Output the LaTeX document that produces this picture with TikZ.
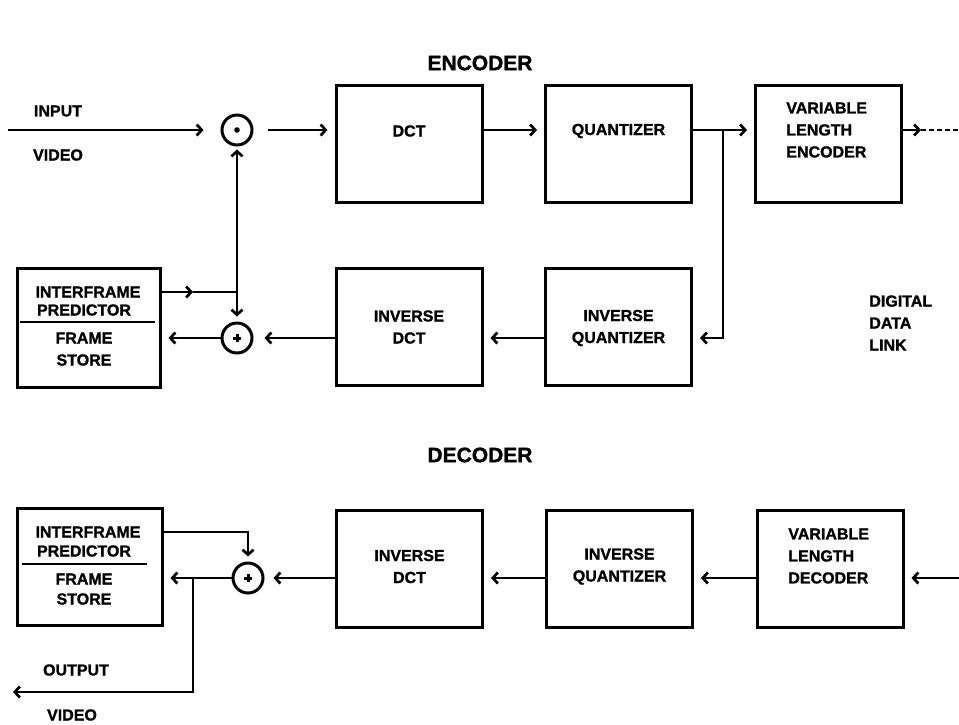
\documentclass[tikz,border=0pt]{standalone}
\usepackage{fontspec}
\setmainfont{Liberation Sans}[BoldFeatures={FakeBold=1.2}]
\usetikzlibrary{arrows.meta,calc}
\begin{document}
\begin{tikzpicture}[x=1pt,y=-1pt,
  line width=2.7pt,
  blk/.style={draw, line width=3pt, minimum width=146pt, minimum height=117pt, inner sep=0pt},
  lbl/.style={font=\fontsize{16}{22}\selectfont\bfseries, inner sep=0pt, align=center},
  ttl/.style={font=\fontsize{21}{24}\selectfont\bfseries, inner sep=0pt},
  sumc/.style={draw, circle, line width=3pt, minimum size=30pt, inner sep=0pt},
  arr/.style={-{Straight Barb[length=5pt,width=11pt]}, shorten >=7pt},
  plain/.style={shorten >=0pt},
]
\useasboundingbox (0,0) rectangle (959,724);

% titles
\node[ttl] (tenc) at (480,63) {ENCODER};
\node[ttl] (tdec) at (480,455) {DECODER};

% ---------------- encoder forward row
\node[blk] (dct)   at (409,144) {};
\node[blk] (quant) at (618.5,144) {};
\node[blk] (vle)   at (828.5,144) {};
\node[lbl] (tdct)   at (409,131) {DCT};
\node[lbl] (tquant) at (618.5,131) {QUANTIZER};
\node[lbl, align=left, anchor=west] (tvle) at (785,130) {VARIABLE\\LENGTH\\ENCODER};

\node[sumc] (sub) at (237,130) {};
\fill (sub.center) circle (2.8pt);

\node[lbl] (tin)  at (58,111) {INPUT};
\node[lbl] (tvid) at (58,155) {VIDEO};
\coordinate (inL) at (8,130);
\draw[arr, shorten >=17pt] (inL) -- (sub.west);
\draw[arr, shorten <=14pt] (sub.east) -- (dct.west |- sub.east);
\draw[arr] (dct.east |- sub.east) -- (quant.west |- sub.east);
\coordinate (br) at (723,130);
\draw[arr] (quant.east |- br) -- (vle.west |- br);
\coordinate (vout) at (921,130);
\coordinate (vend) at (959,130);
\draw[arr, plain] (vle.east |- br) -- (vout);
\draw[dash pattern=on 5pt off 3pt] (vout) -- (vend);

% ---------------- encoder feedback row
\node[blk] (pe)    at (88.5,327.5) [minimum width=143pt, minimum height=119pt] {};
\node[blk] (idct)  at (409,327) {};
\node[blk] (iquant) at (618.5,327) {};
\node[lbl] (tidct)  at (409,327) {INVERSE\\DCT};
\node[lbl] (tiquant) at (618.5,328) {INVERSE\\QUANTIZER};

\node[lbl] (pe1) at (88,292) {INTERFRAME};
\node[lbl] (pe2) at (84,310) {PREDICTOR};
\node[lbl] (pe3) at (84,338) {FRAME};
\node[lbl] (pe4) at (84,360) {STORE};
\draw (20,322) -- (155,322);

\node[sumc] (adde) at (237,338) {};
\draw[line width=3pt] ($(adde.center)+(-4,0)$) -- ($(adde.center)+(4,0)$)
  ($(adde.center)+(0,-4)$) -- ($(adde.center)+(0,4)$);

\node[lbl, align=left, anchor=west] (tlink) at (868,323) {DIGITAL\\DATA\\LINK};

\draw[arr] (br) |- (iquant.east |- adde.center);
\draw[arr] (iquant.west |- adde.center) -- (idct.east |- adde.center);
\draw[arr, shorten >=11pt] (idct.west |- adde.center) -- (adde.east);
\draw[arr] (adde.west) -- (pe.east |- adde.center);
\coordinate (je) at (237,292);
\coordinate (jm) at (193,292);
\draw[arr, plain] (pe.east |- je) -- (jm);
\draw (jm) -- (je);
\draw[arr, shorten >=3pt] (je) -- (sub.south);
\draw[arr, shorten >=5pt] (je) -- (adde.north);

% ---------------- decoder row
\node[blk] (pd)  at (89.5,566.5) [minimum width=145pt, minimum height=117pt] {};
\node[blk] (idd) at (409.5,568.5) {};
\node[blk] (iqd) at (619.5,568.5) {};
\node[blk] (vld) at (830,568.5) {};
\node[lbl] (tidd) at (409.5,566.5) {INVERSE\\DCT};
\node[lbl] (tiqd) at (619.5,566.5) {INVERSE\\QUANTIZER};
\node[lbl, align=left, anchor=west] (tvld) at (787,556) {VARIABLE\\LENGTH\\DECODER};

\node[lbl] (pd1) at (88,532) {INTERFRAME};
\node[lbl] (pd2) at (84,551) {PREDICTOR};
\node[lbl] (pd3) at (84,579) {FRAME};
\node[lbl] (pd4) at (84,599) {STORE};
\draw (22,564) -- (147,564);

\node[sumc] (addd) at (248,578) {};
\draw[line width=3pt] ($(addd.center)+(-4,0)$) -- ($(addd.center)+(4,0)$)
  ($(addd.center)+(0,-4)$) -- ($(addd.center)+(0,4)$);

\coordinate (din) at (959,578);
\draw[arr] (din) -- (vld.east |- din);
\draw[arr] (vld.west |- din) -- (iqd.east |- din);
\draw[arr] (iqd.west |- din) -- (idd.east |- din);
\draw[arr, shorten >=9pt] (idd.west |- din) -- (addd.east);
\draw[arr] (addd.west) -- (pd.east |- addd.center);
\coordinate (pdo) at (162,532);
\draw[arr, shorten >=5pt] (pdo) -| (addd.north);
\coordinate (ob) at (193,578);
\coordinate (oend) at (13,692);
\draw[arr, plain] (ob) |- (oend);
\node[lbl] (tout)  at (76,670) {OUTPUT};
\node[lbl] (tvido) at (72,715) {VIDEO};
\end{tikzpicture}
\end{document}
